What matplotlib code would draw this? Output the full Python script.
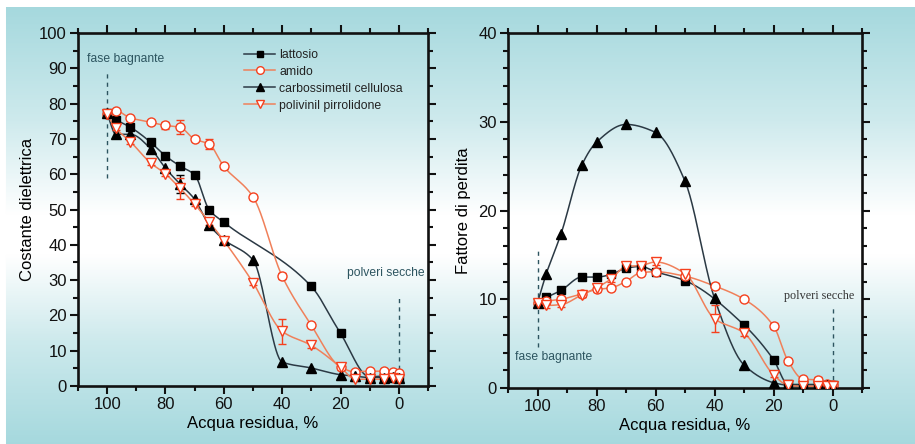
import numpy as np
import matplotlib
matplotlib.use("Agg")
import matplotlib.pyplot as plt
from matplotlib.ticker import MultipleLocator
from matplotlib.colors import LinearSegmentedColormap

plt.rcParams['font.family'] = ['Liberation Sans', 'DejaVu Sans']

# ---------------- data ----------------
x_all = [100, 97, 92, 85, 80, 75, 70, 65, 60, 50, 40, 30, 20, 15, 10, 5, 2, 0]

# Left panel: Costante dielettrica
x_latt_L = [100, 97, 92, 85, 80, 75, 70, 65, 60, 30, 20, 10, 5, 2, 0]
y_latt_L = [77.3, 75.4, 73.3, 69.0, 65.2, 62.3, 59.8, 49.9, 46.4, 28.2, 14.9, 2.6, 2.8, 2.5, 2.3]
e_latt_L = [0, 0, 0, 0, 0, 0, 0, 0, 0, 0, 0, 1.0, 0.6, 0.6, 0.6]

y_amid_L = [77.0, 78.0, 75.9, 74.7, 73.8, 73.3, 69.9, 68.5, 62.2, 53.6, 31.1, 17.2, 5.4, 4.0, 4.2, 4.2, 4.0, 3.7]
e_amid_L = [0.6, 0.6, 0.6, 0.6, 1.0, 2.0, 0.6, 1.5, 0.6, 0.6, 0.8, 0.6, 0.6, 0.6, 0.6, 0.6, 0.6, 0.6]

y_carb_L = [77.3, 71.3, 71.3, 67.2, 61.7, 57.2, 52.9, 45.6, 41.5, 35.7, 6.8, 5.1, 3.2, 2.8, 2.4, 2.4, 2.5, 2.3]
e_carb_L = [0, 0, 0, 0, 0, 2.5, 0, 0, 0, 0, 0, 0, 0, 0, 0.6, 0, 0, 0]

y_poli_L = [77.0, 73.0, 69.2, 63.1, 60.1, 56.0, 51.5, 46.5, 41.2, 29.3, 15.5, 11.5, 5.4, 1.9, 1.9, 1.9, 2.3, 1.9]
e_poli_L = [0.6, 0.6, 0.6, 0.6, 0.6, 3.0, 0.6, 0.8, 0.6, 0.6, 3.5, 0.6, 0.8, 0.6, 0.6, 0.6, 0.6, 0.6]

# Right panel: Fattore di perdita
x_latt_R = [100, 97, 92, 85, 80, 75, 70, 65, 60, 50, 30, 20, 15, 10, 5, 2, 0]
y_latt_R = [9.6, 10.2, 11.0, 12.5, 12.5, 12.8, 13.5, 13.7, 13.1, 12.1, 7.1, 3.2, 0.4, 0.4, 0.4, 0.3, 0.3]
e_latt_R = [0] * 17

y_amid_R = [9.6, 9.8, 10.0, 10.6, 11.1, 11.3, 12.0, 13.0, 13.1, 12.6, 11.5, 10.0, 7.0, 3.0, 1.0, 0.9, 0.4, 0.3]
e_amid_R = [0.3, 0.3, 0.3, 0.3, 0.3, 0.3, 0, 0.3, 0.3, 0.3, 0.3, 0, 0.3, 0.3, 0, 0.3, 0.3, 0]

x_carb_R = [100, 97, 92, 85, 80, 70, 60, 50, 40, 30, 20, 15, 10, 5, 2, 0]
y_carb_R = [9.6, 12.9, 17.4, 25.1, 27.7, 29.7, 28.8, 23.3, 10.1, 2.6, 0.6, 0.3, 0.2, 0.2, 0.3, 0.2]

y_poli_R = [9.6, 9.3, 9.4, 10.5, 11.3, 12.3, 13.7, 13.8, 14.2, 12.9, 7.8, 6.2, 1.5, 0.3, 0.2, 0.2, 0.2, 0.2]
e_poli_R = [0.3, 0.3, 0.3, 0.3, 0.3, 0.3, 0.3, 0.3, 0.3, 0.3, 1.5, 0.3, 0.3, 0, 0, 0, 0, 0]

labels = ['lattosio', 'amido', 'carbossimetil cellulosa', 'polivinil pirrolidone']

# ---------------- helpers ----------------
def pchip(x, y, n=400):
    x = np.asarray(x, float); y = np.asarray(y, float)
    o = np.argsort(x); x = x[o]; y = y[o]
    h = np.diff(x); d = np.diff(y) / h
    m = np.zeros_like(x)
    for k in range(1, len(x) - 1):
        if d[k - 1] * d[k] <= 0:
            m[k] = 0.0
        else:
            w1 = 2 * h[k] + h[k - 1]; w2 = h[k] + 2 * h[k - 1]
            m[k] = (w1 + w2) / (w1 / d[k - 1] + w2 / d[k])
    m[0] = d[0]; m[-1] = d[-1]
    xn = np.linspace(x[0], x[-1], n)
    idx = np.clip(np.searchsorted(x, xn) - 1, 0, len(x) - 2)
    t = (xn - x[idx]) / h[idx]
    h00 = 2 * t**3 - 3 * t**2 + 1; h10 = t**3 - 2 * t**2 + t
    h01 = -2 * t**3 + 3 * t**2; h11 = t**3 - t**2
    yn = h00 * y[idx] + h10 * h[idx] * m[idx] + h01 * y[idx + 1] + h11 * h[idx] * m[idx + 1]
    return xn, yn

BLACK_LINE = '#2b3944'
ORANGE_LINE = '#f0805a'
ORANGE_MK = '#f5401e'
TEXT_C = '#2d5560'

styles = [
    dict(color=BLACK_LINE, marker='s', mfc='black', mec='black', ms=5.5, ecol='black'),
    dict(color=ORANGE_LINE, marker='o', mfc='white', mec=ORANGE_MK, ms=6.5, ecol=ORANGE_MK),
    dict(color=BLACK_LINE, marker='^', mfc='black', mec='black', ms=6.5, ecol='black'),
    dict(color=ORANGE_LINE, marker='v', mfc='white', mec=ORANGE_MK, ms=6.5, ecol=ORANGE_MK),
]

def draw_series(ax, x, y, err, st, label):
    xs, ys = pchip(x, y)
    ax.plot(xs, ys, color=st['color'], lw=1.1, zorder=2)
    if err is not None:
        e = np.asarray(err, float)
        msk = e > 0
        if msk.any():
            ax.errorbar(np.asarray(x)[msk], np.asarray(y)[msk], yerr=e[msk], fmt='none',
                        ecolor=st['ecol'], elinewidth=1.0, capsize=3, capthick=1.0, zorder=3)
    ax.plot(x, y, ls='none', marker=st['marker'], mfc=st['mfc'], mec=st['mec'],
            ms=st['ms'], mew=1.0, zorder=4)
    ax.plot([], [], color=st['color'], lw=1.1, marker=st['marker'], mfc=st['mfc'],
            mec=st['mec'], ms=st['ms'] - 1, label=label)

def style_axes(ax, ymax, ymaj, ymin_step):
    ax.set_facecolor('none')
    ax.set_xlim(110, -10)
    ax.set_ylim(0, ymax)
    ax.xaxis.set_major_locator(MultipleLocator(20))
    ax.xaxis.set_minor_locator(MultipleLocator(10))
    ax.yaxis.set_major_locator(MultipleLocator(ymaj))
    ax.yaxis.set_minor_locator(MultipleLocator(ymin_step))
    for s in ax.spines.values():
        s.set_linewidth(1.9)
        s.set_color('#111111')
    ax.tick_params(which='both', direction='out', top=True, right=True, width=1.5,
                   colors='#111111', labelsize=12, pad=2)
    ax.tick_params(which='major', length=6)
    ax.tick_params(which='minor', length=3.5)
    ax.set_xlabel('Acqua residua, %', fontsize=12, labelpad=3)

# ---------------- figure ----------------
fig = plt.figure(figsize=(9.15, 4.44), dpi=100)

# background gradient
bg = fig.add_axes([0, 0, 1, 1], zorder=-10)
bg.set_axis_off()
teal = np.array([0.65, 0.85, 0.87])
pos = np.array([0, 8, 120, 215, 255, 340, 444]) / 444.0
cols = [teal, teal, 0.55 * teal + 0.45, np.ones(3), np.ones(3), 0.55 * teal + 0.45, teal]
cmap = LinearSegmentedColormap.from_list('bgc', list(zip(pos, cols)))
grad = np.linspace(0, 1, 444)[:, None] * np.ones((1, 915))
img = cmap(grad)
img[:8, :, :3] = 1.0
img[:, :6, :3] = 1.0
bg.imshow(img, aspect='auto', extent=[0, 1, 0, 1], origin='upper')
bg.set_xlim(0, 1); bg.set_ylim(0, 1)

axL = fig.add_axes([0.0852, 0.1306, 0.3826, 0.7951])
axR = fig.add_axes([0.5552, 0.1261, 0.3869, 0.7996])

style_axes(axL, 100, 10, 5)
style_axes(axR, 40, 10, 2)
axL.set_ylabel('Costante dielettrica', fontsize=12, labelpad=3)
axR.set_ylabel('Fattore di perdita', fontsize=12, labelpad=5)

# left panel
draw_series(axL, x_latt_L, y_latt_L, e_latt_L, styles[0], labels[0])
draw_series(axL, x_all, y_amid_L, e_amid_L, styles[1], labels[1])
draw_series(axL, x_all, y_carb_L, e_carb_L, styles[2], labels[2])
draw_series(axL, x_all, y_poli_L, e_poli_L, styles[3], labels[3])

# right panel
draw_series(axR, x_latt_R, y_latt_R, e_latt_R, styles[0], labels[0])
draw_series(axR, x_all, y_amid_R, e_amid_R, styles[1], labels[1])
draw_series(axR, x_carb_R, y_carb_R, None, styles[2], labels[2])
draw_series(axR, x_all, y_poli_R, e_poli_R, styles[3], labels[3])

leg = axL.legend(loc='upper left', bbox_to_anchor=(0.475, 0.955), frameon=False,
                 fontsize=8.8, handlelength=2.5, handletextpad=0.35, labelspacing=0.4,
                 borderpad=0, borderaxespad=0)
for t in leg.get_texts():
    t.set_color('#222222')

# annotations left
axL.plot([100, 100], [59, 89], ls=(0, (3, 3)), color=TEXT_C, lw=1.0, zorder=1)
axL.text(107, 92.5, 'fase bagnante', fontsize=8.7, color=TEXT_C, ha='left', va='center')
axL.plot([0, 0], [0, 25], ls=(0, (3, 3)), color=TEXT_C, lw=1.0, zorder=1)
axL.text(17.7, 32, 'polveri secche', fontsize=8.7, color=TEXT_C, ha='left', va='center')

# annotations right
axR.plot([100, 100], [4.6, 15.8], ls=(0, (3, 3)), color=TEXT_C, lw=1.0, zorder=1)
axR.text(107.6, 3.5, 'fase bagnante', fontsize=8.7, color=TEXT_C, ha='left', va='center')
axR.plot([0, 0], [0, 9.1], ls=(0, (3, 3)), color=TEXT_C, lw=1.0, zorder=1)
axR.text(16.6, 10.4, 'polveri secche', fontsize=8.7, color='#333333', ha='left', va='center',
         family=['Liberation Serif', 'DejaVu Serif'])

fig.savefig('out.png', dpi=100)
